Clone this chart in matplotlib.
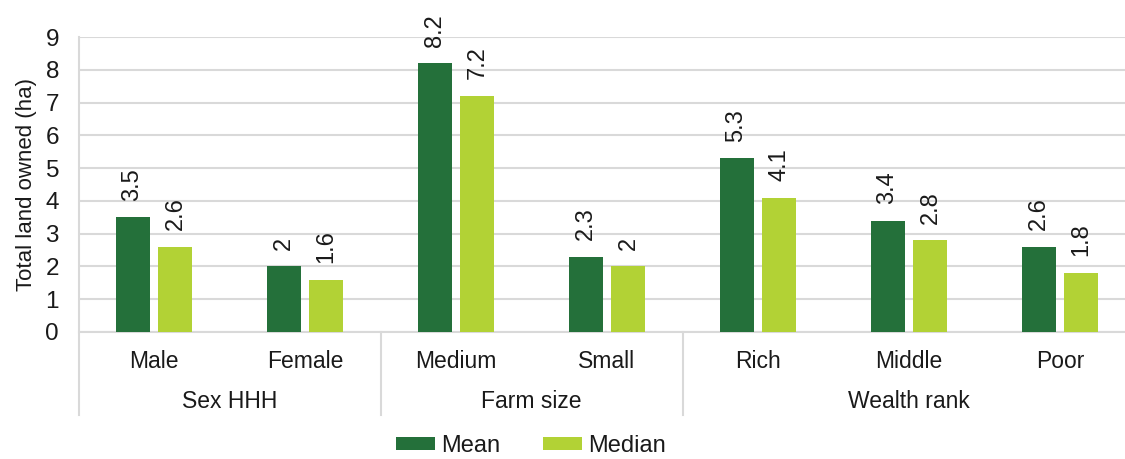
import matplotlib
matplotlib.use('Agg')
import numpy as np
import matplotlib.pyplot as plt
import matplotlib.transforms as mtransforms

# data
categories = ['Male', 'Female', 'Medium', 'Small', 'Rich', 'Middle', 'Poor']
groups = ['Sex HHH', 'Farm size', 'Wealth rank']
group_sizes = [2, 2, 3]
mean_vals = [3.5, 2.0, 8.2, 2.3, 5.3, 3.4, 2.6]
median_vals = [2.6, 1.6, 7.2, 2.0, 4.1, 2.8, 1.8]
mean_labels = ['3.5', '2', '8.2', '2.3', '5.3', '3.4', '2.6']
median_labels = ['2.6', '1.6', '7.2', '2', '4.1', '2.8', '1.8']

DARK = '#24703a'
LIGHT = '#b2d235'
GRID = '#d9d9d9'
TXT = '#1a1a1a'

plt.rcParams['font.family'] = ['Liberation Sans', 'DejaVu Sans']

fig = plt.figure(figsize=(11.25, 4.59), dpi=100)
ax = fig.add_axes([78.5 / 1125, 1 - 332 / 459, 1057 / 1125, 295 / 459])

x = np.arange(len(categories))
w = 0.225
b1 = ax.bar(x - 0.142, mean_vals, w, color=DARK, label='Mean', zorder=3)
b2 = ax.bar(x + 0.142, median_vals, w, color=LIGHT, label='Median', zorder=3)

for bars, labs in ((b1, mean_labels), (b2, median_labels)):
    for r, lab in zip(bars, labs):
        ax.annotate(lab, (r.get_x() + r.get_width() / 2, r.get_height()),
                    xytext=(0, 12), textcoords='offset points',
                    rotation=90, ha='center', va='bottom',
                    fontsize=17, color=TXT)

ax.set_xlim(-0.5, len(categories) - 0.5)
ax.set_ylim(0, 9)
ax.set_yticks(range(10))
ax.yaxis.grid(True, color=GRID, linewidth=1.5, zorder=0)
ax.set_axisbelow(True)
for s in ['top', 'right']:
    ax.spines[s].set_visible(False)
ax.spines['bottom'].set_color(GRID)
ax.spines['bottom'].set_linewidth(1.5)
ax.spines['left'].set_visible(False)
ax.tick_params(axis='y', length=0, pad=14, labelsize=17.5, labelcolor=TXT)
ax.set_xticks(x)
ax.set_xticklabels(categories)
ax.tick_params(axis='x', length=0, pad=13, labelsize=16.5, labelcolor=TXT)
ax.set_ylabel('Total land owned (ha)', fontsize=16, color=TXT, labelpad=6)

# group labels and separators under the axis
trans = mtransforms.blended_transform_factory(ax.transData, ax.transAxes)
ybot = -0.281
ax.plot([-0.5, -0.5], [ybot, 1], transform=trans, color=GRID,
        linewidth=1.5, clip_on=False)
start = 0
for g, n in zip(groups, group_sizes):
    ax.text(start + (n - 1) / 2, -0.237, g, transform=trans, ha='center',
            va='center', fontsize=16.5, color=TXT)
    start += n
    if start < len(categories):
        ax.plot([start - 0.5, start - 0.5], [ybot, 0], transform=trans,
                color=GRID, linewidth=1.5, clip_on=False)

fig.legend(loc='center', bbox_to_anchor=(531 / 1125, 13 / 459), ncol=2,
           frameon=False, fontsize=17, handlelength=1.65, handleheight=0.5,
           handletextpad=0.25, columnspacing=1.8, labelcolor=TXT)

fig.savefig('out.png', dpi=100)
